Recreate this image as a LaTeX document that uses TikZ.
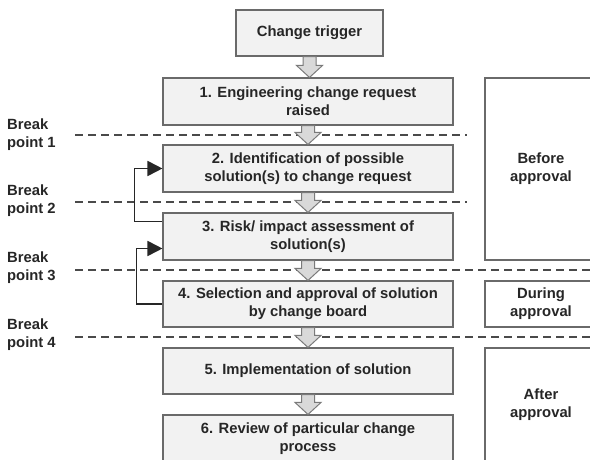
\documentclass[tikz,border=0pt]{standalone}
\usepackage{fontspec}
\setmainfont{Liberation Sans}
\usetikzlibrary{arrows.meta,calc}
\definecolor{boxfill}{HTML}{F2F2F2}
\definecolor{boxline}{HTML}{6A6A6A}
\definecolor{txt}{HTML}{262626}
\definecolor{arrfill}{HTML}{D9D9D9}
\definecolor{arrline}{HTML}{7A7A7A}
\definecolor{dashcol}{HTML}{4A4A4A}
\newcommand\blockarrow[2]{%
  \path[barrow] let \p1=(#1.south), \p2=(#2.north), \n1={\y2+12pt} in
    (\x1-6.5pt,\y1) -- (\x1+6.5pt,\y1) -- (\x1+6.5pt,\n1) -- (\x1+13pt,\n1)
    -- (\x1,\y2) -- (\x1-13pt,\n1) -- (\x1-6.5pt,\n1) -- cycle;}
\begin{document}
\begin{tikzpicture}[x=1pt,y=-1pt,
  txtfont/.style={font=\bfseries\fontsize{14.8}{18}\selectfont, text=txt},
  box/.style={draw=boxline, fill=boxfill, line width=1.1pt, minimum width=290pt,
    minimum height=47pt, align=center, inner sep=0pt, txtfont},
  sidebox/.style={draw=boxline, fill=white, line width=1.1pt, minimum width=112pt,
    align=center, inner sep=0pt, txtfont},
  lbl/.style={anchor=west, align=left, inner sep=0pt, txtfont},
  sep/.style={draw=dashcol, line width=1.2pt, dash pattern=on 8pt off 5pt},
  barrow/.style={draw=arrline, fill=arrfill, line width=1pt, line join=miter},
  fb/.style={draw=black!85, line width=1.8pt,
    -{Triangle[length=15pt,width=15pt]}}]
\useasboundingbox (0,0) rectangle (590,460);
% break point separators
\coordinate (d1a) at (75,135);  \coordinate (d1b) at (467,135);
\coordinate (d2a) at (75,202);  \coordinate (d2b) at (467,202);
\coordinate (d3a) at (75,270);  \coordinate (d3b) at (592,270);
\coordinate (d4a) at (75,337);  \coordinate (d4b) at (592,337);
\draw[sep] (d1a) -- (d1b);
\draw[sep] (d2a) -- (d2b);
\draw[sep] (d3a) -- (d3b);
\draw[sep] (d4a) -- (d4b);
\node[lbl] (bp1) at (7,135) {Break\\point 1};
\node[lbl] (bp2) at (7,201) {Break\\point 2};
\node[lbl] (bp3) at (7,268) {Break\\point 3};
\node[lbl] (bp4) at (7,335) {Break\\point 4};
% main boxes
\node[box, minimum width=147pt, minimum height=46pt] (trig) at (309.5,33) {Change trigger};
\node[box] (b1) at (308,101.5) {1. Engineering change request\\raised};
\node[box] (b2) at (308,168.5) {2. Identification of possible\\solution(s) to change request};
\node[box] (b3) at (308,236.5) {3. Risk/ impact assessment of\\solution(s)};
\node[box, minimum height=46pt] (b4) at (308,304) {4. Selection and approval of solution\\by change board};
\node[box, minimum height=46pt] (b5) at (308,371) {5. Implementation of solution};
\node[box] (b6) at (308,438.5) {6. Review of particular change\\process};
% side boxes
\node[sidebox, minimum height=182pt] (before) at (541,169) {Before\\approval};
\node[sidebox, minimum height=46pt] (during) at (541,304) {During\\approval};
\node[sidebox, minimum height=114pt] (after) at (541,405) {After\\approval};
% block arrows
\blockarrow{trig}{b1}
\blockarrow{b1}{b2}
\blockarrow{b2}{b3}
\blockarrow{b3}{b4}
\blockarrow{b4}{b5}
\blockarrow{b5}{b6}
% feedback arrows
\draw[fb] ([yshift=-9pt]b3.north west) -- ++(-28,0) |- (b2.west);
\draw[fb] (b4.west) -- ++(-26,0) |- ([yshift=-12pt]b3.west);
\end{tikzpicture}
\end{document}
